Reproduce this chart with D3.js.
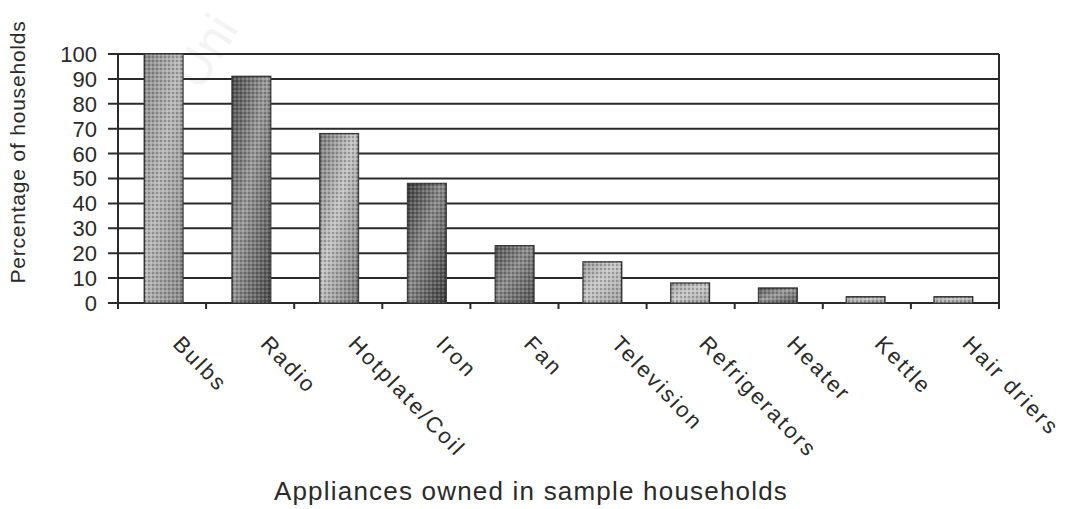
<!DOCTYPE html>
<html>
<head>
<meta charset="utf-8">
<script src="https://cdn.jsdelivr.net/npm/d3@7"></script>
<style>
  body { margin: 0; background: #fff; }
  text { font-family: Arial, "Liberation Sans", sans-serif; fill: #2a2a2a; }
</style>
</head>
<body>
<div id="chart"></div>
<script>
// appliance ownership
const appliances = ["Bulbs", "Radio", "Hotplate/Coil", "Iron", "Fan", "Television", "Refrigerators", "Heater", "Kettle", "Hair driers"]
const percentages = [100, 91, 68, 48, 23, 16.5, 8, 6, 2.5, 2.5]
const yTicks = [0, 10, 20, 30, 40, 50, 60, 70, 80, 90, 100]
// bar tones (light / dark) to fake the scanned hatch patterns
const barTones = [
  ["#b8b8b8", "#8a8a8a"], ["#9a9a9a", "#4a4a4a"], ["#c4c4c4", "#7a7a7a"], ["#8a8a8a", "#3e3e3e"],
  ["#8c8c8c", "#555"], ["#c8c8c8", "#a0a0a0"], ["#c8c8c8", "#a4a4a4"], ["#9a9a9a", "#5a5a5a"],
  ["#c0c0c0", "#a0a0a0"], ["#c0c0c0", "#a0a0a0"]
]

const width = 1070, height = 509
const margin = {top: 54, right: 71, bottom: 206, left: 118}

const svg = d3.select("#chart").append("svg")
    .attr("width", width)
    .attr("height", height)

// faint watermark from the scan
svg.append("text")
    .attr("transform", "translate(200,92) rotate(-58)")
    .attr("font-size", 50)
    .style("fill", "#f3f3f3")
    .text("Uni")

const defs = svg.append("defs")
appliances.forEach((a, i) => {
  const g = defs.append("linearGradient")
      .attr("id", "grad" + i)
      .attr("x1", 0).attr("y1", 0).attr("x2", 1).attr("y2", 1)
  g.append("stop").attr("offset", "0%").attr("stop-color", barTones[i][1])
  g.append("stop").attr("offset", "45%").attr("stop-color", barTones[i][0])
  g.append("stop").attr("offset", "100%").attr("stop-color", barTones[i][1])
})
const dots = defs.append("pattern")
    .attr("id", "dots")
    .attr("width", 4).attr("height", 4)
    .attr("patternUnits", "userSpaceOnUse")
dots.append("rect").attr("width", 2).attr("height", 2).attr("fill", "#000").attr("opacity", 0.22)
dots.append("rect").attr("x", 2).attr("y", 2).attr("width", 2).attr("height", 2).attr("fill", "#fff").attr("opacity", 0.18)

const x = d3.scaleBand()
    .domain(appliances)
    .range([margin.left, width - margin.right])
    .paddingInner(0.56)
    .paddingOuter(0.3)

const y = d3.scaleLinear()
    .domain([0, 100])
    .range([height - margin.bottom, margin.top])

// grid lines
svg.append("g")
  .selectAll("line")
  .data(yTicks)
  .join("line")
    .attr("x1", margin.left - 10)
    .attr("x2", width - margin.right)
    .attr("y1", d => y(d))
    .attr("y2", d => y(d))
    .attr("stroke", "#2a2a2a")
    .attr("stroke-width", 2)

// y tick labels
svg.append("g")
  .selectAll("text")
  .data(yTicks)
  .join("text")
    .attr("x", margin.left - 21)
    .attr("y", d => y(d))
    .attr("dy", "0.36em")
    .attr("text-anchor", "end")
    .attr("font-size", 22)
    .text(d => d)

// left and right frame
svg.append("line")
    .attr("x1", margin.left).attr("x2", margin.left)
    .attr("y1", y(100)).attr("y2", y(0) + 5)
    .attr("stroke", "#2a2a2a").attr("stroke-width", 2)
svg.append("line")
    .attr("x1", width - margin.right).attr("x2", width - margin.right)
    .attr("y1", y(100)).attr("y2", y(0) + 5)
    .attr("stroke", "#2a2a2a").attr("stroke-width", 2)

// x ticks at category boundaries
const catW = (width - margin.right - margin.left) / appliances.length
svg.append("g")
  .selectAll("line")
  .data(d3.range(appliances.length + 1))
  .join("line")
    .attr("x1", i => margin.left + catW * i)
    .attr("x2", i => margin.left + catW * i)
    .attr("y1", y(0))
    .attr("y2", y(0) + 6)
    .attr("stroke", "#2a2a2a")
    .attr("stroke-width", 2)

// bars
const bars = svg.append("g")
  .selectAll("g")
  .data(appliances)
  .join("g")
bars.append("rect")
    .attr("x", d => x(d))
    .attr("width", x.bandwidth())
    .attr("y", (d, i) => y(percentages[i]))
    .attr("height", (d, i) => y(0) - y(percentages[i]))
    .attr("fill", (d, i) => `url(#grad${i})`)
    .attr("stroke", "#3a3a3a")
    .attr("stroke-width", 1.5)
bars.append("rect")
    .attr("x", d => x(d))
    .attr("width", x.bandwidth())
    .attr("y", (d, i) => y(percentages[i]))
    .attr("height", (d, i) => y(0) - y(percentages[i]))
    .attr("fill", "url(#dots)")

// category labels, rotated
svg.append("g")
  .selectAll("text")
  .data(appliances)
  .join("text")
    .attr("transform", d => `translate(${x(d) + x.bandwidth() / 2 + 8},${y(0) + 42}) rotate(46)`)
    .attr("font-size", 22)
    .attr("letter-spacing", 2.4)
    .text(d => d)

// axis titles
svg.append("text")
    .attr("x", 531)
    .attr("y", 500)
    .attr("text-anchor", "middle")
    .attr("font-size", 26)
    .attr("letter-spacing", 1.2)
    .text("Appliances owned in sample households")

svg.append("text")
    .attr("transform", `translate(25,152) rotate(-90)`)
    .attr("text-anchor", "middle")
    .attr("font-size", 21)
    .attr("letter-spacing", 0.8)
    .text("Percentage of households")
</script>
</body>
</html>
